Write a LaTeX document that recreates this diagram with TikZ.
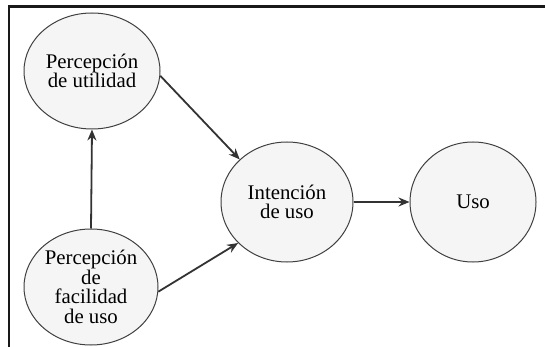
\documentclass[tikz,border=0pt]{standalone}
\usepackage{fontspec}
\setmainfont{Liberation Serif}
\usetikzlibrary{shapes.geometric,arrows.meta}
\begin{document}
\begin{tikzpicture}[x=0.5pt,y=-0.5pt,
  bubble/.style={ellipse,draw=black!75,line width=0.5pt,fill=black!4,inner sep=0pt,
    align=center,font=\fontsize{10.4}{9.8}\selectfont,text=black},
  conn/.style={draw=black!80,line width=0.9pt,-{Stealth[length=5.5pt,width=4.5pt]}}]
\useasboundingbox (0,0) rectangle (545,347);
\fill[white] (0,0) rectangle (545,347);
\draw[line width=1.1pt,black!90] (9,347) -- (9,6.5) -- (545,6.5);
\node[bubble,minimum width=68pt,minimum height=58pt] (pu) at (92,71) {Percepción\\de utilidad};
\node[bubble,minimum width=67pt,minimum height=58pt] (pf) at (91,287) {Percepción\\de\\facilidad\\de uso};
\node[bubble,minimum width=66pt,minimum height=60pt] (iu) at (287,202) {Intención\\de uso};
\node[bubble,minimum width=63pt,minimum height=60pt] (uso) at (473,202) {Uso};
\draw[conn] (pf.north) -- (pu.south);
\draw[conn] (pu.-4) -- (iu.138);
\draw[conn] (pf.-4) -- (iu.220);
\draw[conn] (iu.east) -- (uso.west);
\end{tikzpicture}
\end{document}
